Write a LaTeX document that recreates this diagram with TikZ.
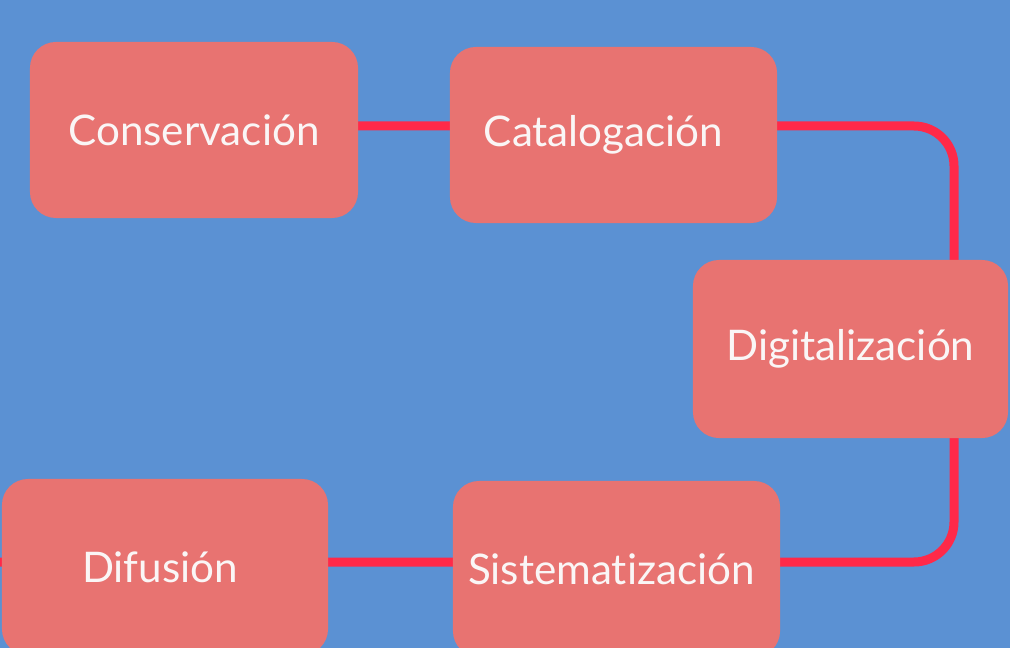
\documentclass[tikz,border=0pt]{standalone}
\usepackage{fontspec}
\setmainfont{Lato}[Ligatures=NoCommon]
\usetikzlibrary{positioning, calc, backgrounds}
\definecolor{cBack}{RGB}{91, 145, 211}
\definecolor{cBox}{RGB}{232, 115, 113}
\definecolor{cLink}{RGB}{255, 41, 73}
\definecolor{tLight}{RGB}{250, 246, 246}

\begin{document}
\begin{tikzpicture}[
    x=0.025cm, y=-0.025cm,
    font=\fontsize{30}{36}\selectfont,
    stage/.style={
        fill=cBox,
        rounded corners=0.65cm,
        minimum width=8.2cm,
        minimum height=4.4cm,
        text=tLight,
        align=center,
        inner sep=0pt
    },
    link/.style={line width=6.4pt, color=cLink, rounded corners=1cm}
]

\useasboundingbox (0,0) rectangle (1010,648);

% Top row
\node[stage] (cons) at (194, 130) {Conservación};
\node[stage, minimum width=8.175cm] (cat) at (613.5, 135) {Catalogación\hspace*{0.5cm}};

% Right side
\node[stage, minimum width=7.875cm, minimum height=4.45cm] (dig) at (850.5, 349) {Digitalización};

% Bottom row
\node[stage, minimum width=8.15cm] (dif) at (165, 567) {Difusión\hspace*{0.25cm}};
\node[stage, minimum width=8.175cm] (sis) at (616.5, 569) {Sistematización\hspace*{0.25cm}};

\coordinate (topline) at (0, 126);
\coordinate (botline) at (0, 562);
\coordinate (rail) at (954, 0);

\begin{scope}[on background layer]
    \fill[cBack] (0,0) rectangle (1010,648);
    \draw[link] (cons.center |- topline) -- (topline -| rail)
        -- (botline -| rail) -- (dif.west |- botline) -- ++(-30, 0);
\end{scope}

\end{tikzpicture}
\end{document}
